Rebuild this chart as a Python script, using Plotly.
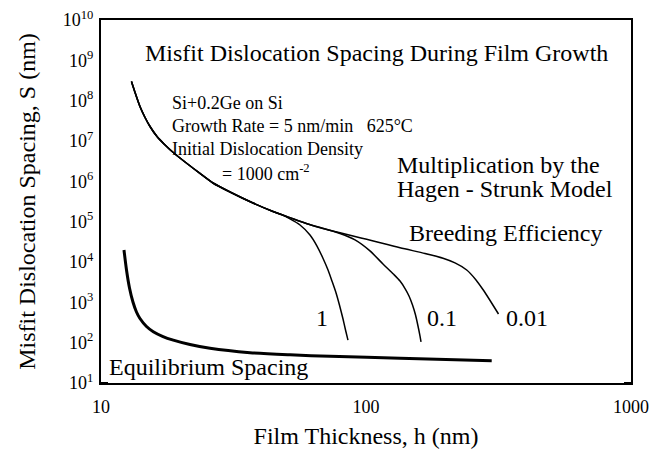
import math
import plotly.graph_objects as go

# ---------------- data ----------------
# shared multiplication curve (all breeding efficiencies); h = film thickness (nm), S = spacing (nm)
h_common = [13.03, 13.44, 14.03, 14.66, 15.31, 16.27, 17.29, 19.02, 21.11, 23.63, 26.46, 30.68, 37.46, 44.58]
s_common = [2.99e8, 1.60e8, 7.18e7, 3.83e7, 2.29e7, 1.29e7, 8.44e6, 4.76e6, 2.77e6, 1.57e6, 9.10e5, 5.44e5, 2.90e5, 1.79e5]

# breeding efficiency = 1 (branches off first)
h_eff1 = [48.2, 51.67, 56.36, 61.47, 65.32, 69.0, 71.9, 74.4, 77.1, 79.4, 81.9, 83.7, 85.5]
s_eff1 = [1.47e5, 1.17e5, 8.28e4, 4.68e4, 2.49e4, 1.19e4, 6.34e3, 3.38e3, 1.71e3, 8.59e2, 3.86e2, 2.06e2, 1.16e2]

# part shared by efficiencies 0.1 and 0.01
h_upper = [51.67, 59.9, 71.2]
s_upper = [1.26e5, 8.91e4, 6.40e4]

# breeding efficiency = 0.1
h_eff01 = [79.8, 90.9, 103.5, 115.9, 126.8, 134.4, 140.4, 145.3, 149.8, 153.8, 157.1, 159.9, 161.3]
s_eff01 = [5.09e4, 3.52e4, 1.88e4, 8.93e3, 5.04e3, 3.38e3, 2.20e3, 1.44e3, 8.59e2, 4.85e2, 2.59e2, 1.46e2, 1.04e2]

# breeding efficiency = 0.01
h_eff001 = [79.8, 90.1, 100.6, 134.4, 167.0, 195.3, 216.7, 239.9, 260.1, 277.1, 296.3, 316.2]
s_eff001 = [5.30e4, 4.34e4, 3.66e4, 2.25e4, 1.63e4, 1.24e4, 9.50e3, 6.34e3, 3.60e3, 2.02e3, 1.02e3, 5.14e2]

# equilibrium spacing
h_equil = [12.21, 12.48, 12.81, 13.20, 13.61, 14.03, 14.85, 15.75, 17.14, 18.74, 21.67, 25.78, 36.50, 51.67, 73.14, 134.4, 298.1]
s_equil = [1.99e4, 6.34e3, 2.27e3, 1.02e3, 5.76e2, 3.97e2, 2.52e2, 1.87e2, 1.42e2, 1.16e2, 90.1, 72.5, 56.4, 50.0, 45.9, 41.0, 35.7]

eff_labels = ["1", "0.1", "0.01"]

# axis ticks
x_major = [10, 100, 1000]
x_major_text = ["10", "100", "1000"]
x_minor = [20, 30, 40, 50, 60, 70, 80, 90, 200, 300, 400, 500, 600, 700, 800, 900]
y_exponents = list(range(1, 11))
y_major = [10 ** e for e in y_exponents]
y_major_text = ["10<sup>%d</sup>" % e for e in y_exponents]
y_minor = [m * 10 ** e for e in range(1, 10) for m in range(2, 10)]

# ---------------- figure ----------------
FONT = "Liberation Serif, Times New Roman, serif"
PLOT_W, PLOT_H = 530, 363  # plot-area size in pixels (from margins below)
fig = go.Figure()

curves = [
    (h_common + h_eff1, s_common + s_eff1),
    (h_common + h_upper + h_eff01, s_common + s_upper + s_eff01),
    (h_common + h_upper + h_eff001, s_common + s_upper + s_eff001),
]
for (hx, sy), lab in zip(curves, eff_labels):
    fig.add_trace(go.Scatter(x=hx, y=sy, mode="lines", name=lab,
                             line=dict(color="black", width=1.5, shape="spline", smoothing=0.7),
                             showlegend=False))

fig.add_trace(go.Scatter(x=h_equil, y=s_equil, mode="lines", name="Equilibrium",
                         line=dict(color="black", width=3, shape="spline", smoothing=0.7),
                         showlegend=False))


def pp(px, py):
    """pixel -> paper coords for text placement"""
    return (px - 101) / PLOT_W, (383 - py) / PLOT_H


def text(px, py, t, size, anchor="left"):
    x, y = pp(px, py)
    fig.add_annotation(x=x, y=y, xref="paper", yref="paper", xanchor=anchor, yanchor="middle",
                       text=t, showarrow=False, font=dict(family=FONT, size=size, color="black"))


text(376, 53, "Misfit Dislocation Spacing During Film Growth", 24, "center")
text(170, 103, "Si+0.2Ge on Si", 18)
text(170, 126, "Growth Rate = 5 nm/min&nbsp;&nbsp;&nbsp;625°C", 18)
text(170, 149, "Initial Dislocation Density", 18)
text(220, 172, "= 1000 cm<sup>-2</sup>", 18)
text(395, 165, "Multiplication by the", 24)
text(395, 189, "Hagen - Strunk Model", 24)
text(407, 233, "Breeding Efficiency", 24)
text(107, 367, "Equilibrium Spacing", 24)
for t, px in zip(eff_labels, [322, 442, 527]):
    text(px, 318, t, 24, "center")


# inside tick marks on all four sides, at the axis tick values
def xtick(v, length, width):
    lx = math.log10(v)
    f = length / PLOT_H
    for y0, y1 in ((0, f), (1, 1 - f)):
        fig.add_shape(type="line", xref="x", yref="paper", x0=lx, x1=lx, y0=y0, y1=y1,
                      line=dict(color="black", width=width), layer="above")


def ytick(v, length, width):
    ly = math.log10(v)
    f = length / PLOT_W
    for x0, x1 in ((0, f), (1, 1 - f)):
        fig.add_shape(type="line", xref="paper", yref="y", x0=x0, x1=x1, y0=ly, y1=ly,
                      line=dict(color="black", width=width), layer="above")


for v in x_major:
    xtick(v, 7, 2)
for v in x_minor:
    xtick(v, 4, 1.5)
for v in y_major:
    ytick(v, 7, 2)
for v in y_minor:
    ytick(v, 4, 1.5)

tickfont = dict(family=FONT, size=18, color="black")
fig.update_xaxes(type="log", range=[1, 3], tickvals=x_major, ticktext=x_major_text,
                 showline=True, linecolor="black", linewidth=2, mirror=True, ticks="",
                 showgrid=False, zeroline=False, automargin=False,
                 tickfont=tickfont, ticklabelstandoff=6,
                 title=dict(text="Film Thickness, h (nm)", font=dict(family=FONT, size=24, color="black"),
                            standoff=12))
fig.update_yaxes(type="log", range=[1, 10], tickvals=y_major, ticktext=y_major_text,
                 showline=True, linecolor="black", linewidth=2, mirror=True, ticks="",
                 showgrid=False, zeroline=False, automargin=False,
                 tickfont=tickfont, ticklabelstandoff=2,
                 title=dict(text="Misfit Dislocation Spacing, S (nm)",
                            font=dict(family=FONT, size=24, color="black"), standoff=20))

fig.update_layout(
    width=649, height=450,
    margin=dict(l=101, r=18, t=20, b=67),
    paper_bgcolor="white", plot_bgcolor="white",
    font=dict(family=FONT, color="black"),
)
fig.write_html("out.html")
